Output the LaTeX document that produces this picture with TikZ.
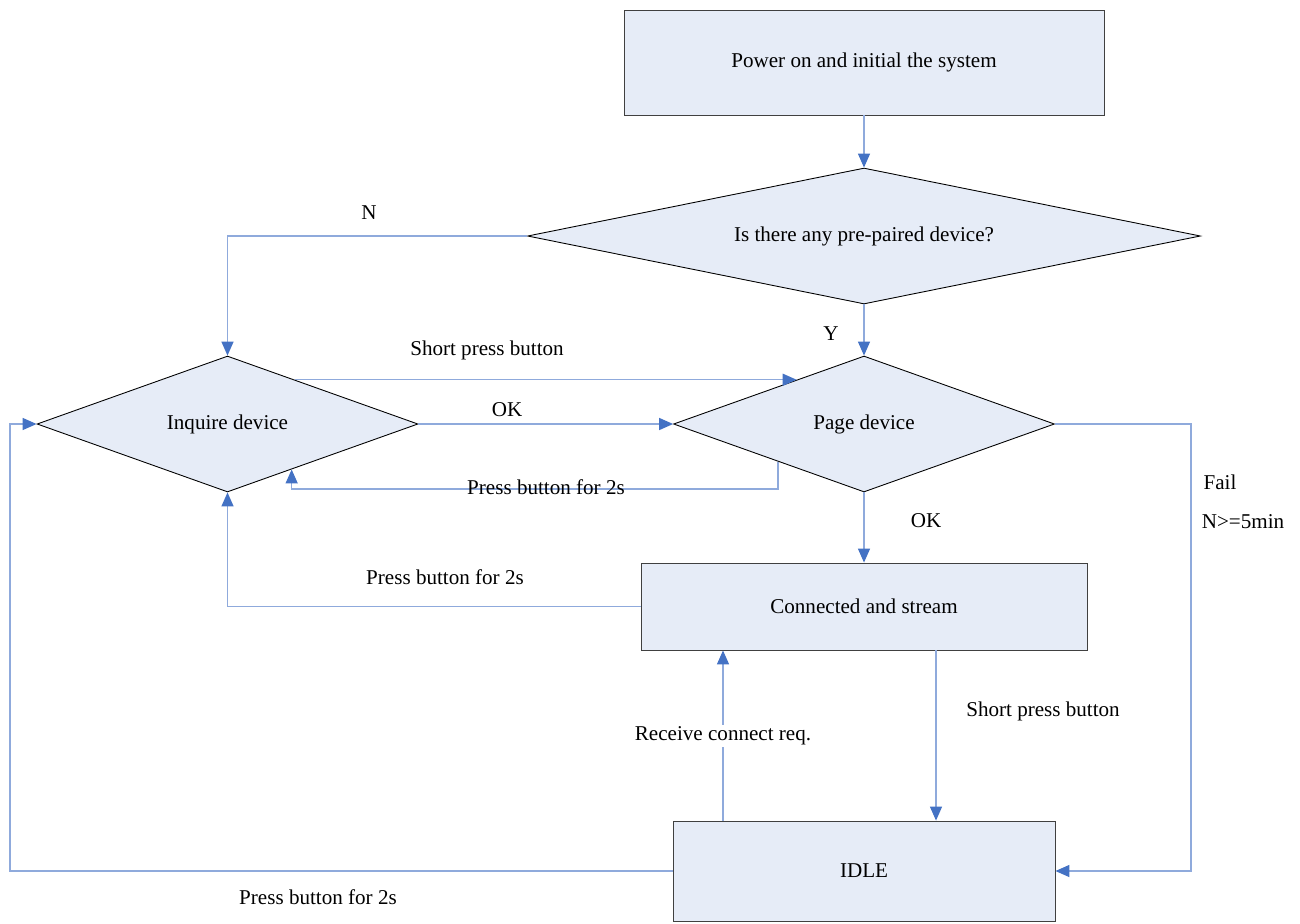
\documentclass[tikz,border=0pt]{standalone}
\usepackage{fontspec}
\setmainfont{Liberation Serif}
\usetikzlibrary{shapes.geometric,arrows.meta,calc}
\definecolor{boxfill}{RGB}{230,236,247}
\definecolor{linkline}{RGB}{143,170,220}
\definecolor{tipblue}{RGB}{68,114,196}
\begin{document}
\begin{tikzpicture}[x=0.02cm, y=-0.02cm, >={Triangle[length=0.28cm,width=0.24cm,color=tipblue]},
		font=\fontsize{12}{14}\selectfont,
		state/.style={draw=black!75, fill=boxfill, line width=0.5pt, rectangle},
		choice/.style={draw=black, fill=boxfill, line width=0.5pt, diamond, inner sep=0pt,
			shape aspect=2.8, minimum width=7.62cm, minimum height=2.72cm},
		link/.style={draw=linkline, line width=0.8pt, ->}]
	\useasboundingbox (0,0) rectangle (1300,923);
	% boxes and decisions
	\node[state, minimum width=9.6cm, minimum height=2.1cm] (power) at (864,62.5) {Power on and initial the system};
	\node[choice, shape aspect=4.95, minimum width=13.46cm] (query) at (864,236) {Is there any pre-paired device?};
	\node[choice] (inq) at (227.5,424) {Inquire device};
	\node[choice] (page) at (864,424) {Page device};
	\node[state, minimum width=8.92cm, minimum height=1.74cm] (conn) at (864,606.5) {Connected and stream};
	\node[state, minimum width=7.64cm, minimum height=2cm] (idle) at (864,871) {IDLE};
	% helper points
	\path ($(inq.east)!0.647!(inq.north)$) coordinate (sp1)
		($(page.west)!0.647!(page.north)$) coordinate (sp2)
		($(page.south)!0.45!(page.west)$) coordinate (pb1)
		($(inq.south)!0.336!(inq.east)$) coordinate (pb2)
		(0,489) coordinate (pby)
		(936,0) coordinate (sx)
		(723,0) coordinate (rx)
		(1191,0) coordinate (fx)
		(10,0) coordinate (lx);
	% connectors
	\draw[link] (power.south) -- (query.north);
	\draw[link] (query.west) -| (inq.north);
	\draw[link] (query.south) -- (page.north);
	\draw[link] (sp1) -- (sp2);
	\draw[link] (inq.east) -- (page.west);
	\draw[link] (pb1) -- (pb1 |- pby) -| (pb2);
	\draw[link] (page.south) -- (conn.north);
	\draw[link] (conn.west) -| (inq.south);
	\draw[link] (conn.south -| sx) -- (idle.north -| sx);
	\draw[link] (idle.north -| rx) -- (conn.south -| rx);
	\draw[link] (page.east) -| (fx |- idle.east) -- (idle.east);
	\draw[link] (idle.west) -| (lx |- inq.west) -- (inq.west);
	% labels
	\node (lN) at (369,213) {N};
	\node (lY) at (831,334) {Y};
	\node (lsp1) at (487,350) {Short press button};
	\node (lok1) at (507,410) {OK};
	\node (lpb1) at (546,487) {Press button for 2s};
	\node (lok2) at (926,521) {OK};
	\node (lpb2) at (445,577) {Press button for 2s};
	\node (lsp2) at (1043,711) {Short press button};
	\node[fill=white, inner sep=1pt] (lrc) at (723,736) {Receive connect req.};
	\node (lfail) at (1220,482) {Fail};
	\node (ltime) at (1243,522) {N>=5min};
	\node (lpb3) at (318,897) {Press button for 2s};
\end{tikzpicture}
\end{document}
